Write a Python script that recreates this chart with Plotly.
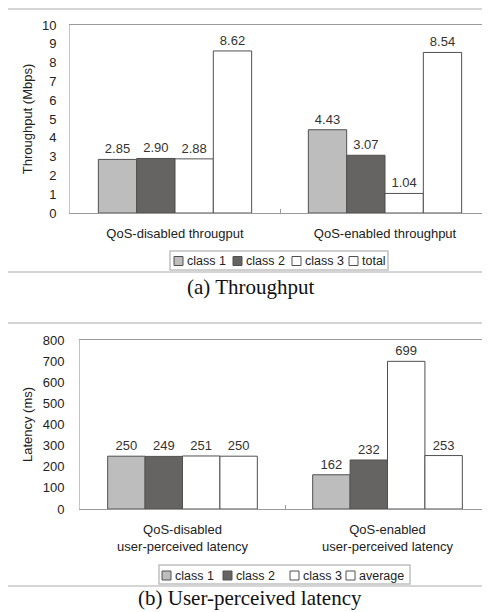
import plotly.graph_objects as go

# ---- data ----
tp_categories = ["QoS-disabled througput", "QoS-enabled throughput"]
tp_class1 = [2.85, 4.43]
tp_class2 = [2.90, 3.07]
tp_class3 = [2.88, 1.04]
tp_total = [8.62, 8.54]
tp_names = ["class 1", "class 2", "class 3", "total"]

lat_categories = ["QoS-disabled<br>user-perceived latency", "QoS-enabled<br>user-perceived latency"]
lat_class1 = [250, 162]
lat_class2 = [249, 232]
lat_class3 = [251, 699]
lat_average = [250, 253]
lat_names = ["class 1", "class 2", "class 3", "average"]

# the page body adds an 8px margin: the figure is sized to fill the rest of the window
OFF = 8
W, H = 490 - OFF, 612 - OFF
FONT = "Liberation Sans, Arial, sans-serif"
SERIF = "Liberation Serif, Times New Roman, serif"
C1, C2, CW = "#bdbdbd", "#656462", "#ffffff"
COLORS = [C1, C2, CW, CW]
OUT = "#505050"
TXT = "#222"


def px(x):
    return (x - OFF) / W


def py(y):
    return 1 - (y - OFF) / H


fig = go.Figure()


def add_bars(cats, vals, name, color, xa, ya, fmt):
    fig.add_trace(go.Bar(
        x=cats, y=vals, name=name, xaxis=xa, yaxis=ya, showlegend=False,
        marker=dict(color=color, line=dict(color=OUT, width=1)),
        texttemplate=fmt, textposition="outside", cliponaxis=False,
        textfont=dict(family=FONT, size=13, color="#333"),
    ))


for vals, name, col in zip([tp_class1, tp_class2, tp_class3, tp_total], tp_names, COLORS):
    add_bars(tp_categories, vals, name, col, "x", "y", "%{y:.2f}")
for vals, name, col in zip([lat_class1, lat_class2, lat_class3, lat_average], lat_names, COLORS):
    add_bars(lat_categories, vals, name, col, "x2", "y2", "%{y}")

xcommon = dict(showline=True, linecolor="#9a9a9a", mirror=True, ticks="inside",
               tickson="boundaries", ticklen=4, tickcolor="#9a9a9a",
               tickfont=dict(family=FONT, size=13, color=TXT),
               showgrid=False, automargin=False, ticklabelstandoff=8, fixedrange=True)
ycommon = dict(showline=True, linecolor="#c4c4c4", mirror=True, ticks="",
               tickfont=dict(family=FONT, size=13, color=TXT),
               showgrid=False, zeroline=False, automargin=False, fixedrange=True)

shapes = [
    dict(type="rect", xref="paper", yref="paper", x0=px(7), x1=px(500),
         y0=py(272), y1=py(9), line=dict(color="#c8c8c8", width=1.5), layer="below"),
    dict(type="rect", xref="paper", yref="paper", x0=px(7), x1=px(500),
         y0=py(586), y1=py(323), line=dict(color="#c8c8c8", width=1.5), layer="below"),
]
annotations = [
    dict(text="(a) Throughput", xref="paper", yref="paper", x=px(250), y=py(287),
         xanchor="center", yanchor="middle", showarrow=False,
         font=dict(family=SERIF, size=21, color="#111")),
    dict(text="(b) User-perceived latency", xref="paper", yref="paper", x=px(250), y=py(598),
         xanchor="center", yanchor="middle", showarrow=False,
         font=dict(family=SERIF, size=21, color="#111")),
]


# compact legends (box, swatches, labels)
def add_legend(names, box, sq_x, cy):
    x0, x1, y0, y1 = box
    shapes.append(dict(type="rect", xref="paper", yref="paper", x0=px(x0), x1=px(x1),
                       y0=py(y1), y1=py(y0), line=dict(color="#c0c0c0", width=1.5),
                       fillcolor="white", layer="above"))
    for name, col, sx in zip(names, COLORS, sq_x):
        shapes.append(dict(type="rect", xref="paper", yref="paper", x0=px(sx), x1=px(sx + 9),
                           y0=py(cy + 4.5), y1=py(cy - 4.5),
                           line=dict(color=OUT, width=1), fillcolor=col, layer="above"))
        annotations.append(dict(text=name, xref="paper", yref="paper", x=px(sx + 11), y=py(cy),
                                xanchor="left", yanchor="middle", showarrow=False,
                                font=dict(family=FONT, size=12.5, color=TXT)))


add_legend(tp_names, (170, 388, 251, 270), [174, 233, 292, 349], 261)
add_legend(lat_names, (159, 410, 565, 584), [162, 223, 290, 346], 575.5)

fig.update_layout(
    width=W, height=H, template="none",
    margin=dict(l=0, r=0, t=0, b=0, autoexpand=False),
    paper_bgcolor="white", plot_bgcolor="white",
    barmode="group", bargap=0.27, bargroupgap=0,
    font=dict(family=FONT, size=13, color=TXT),
    showlegend=False,
    xaxis=dict(domain=[px(70), 1.0], anchor="y", **xcommon),
    yaxis=dict(domain=[py(213), py(25)], anchor="x", range=[0, 10], dtick=1,
               ticklabelstandoff=10,
               title=dict(text="Throughput (Mbps)", standoff=6,
                          font=dict(family=FONT, size=13, color=TXT)), **ycommon),
    xaxis2=dict(domain=[px(80), 1.0], anchor="y2", **xcommon),
    yaxis2=dict(domain=[py(509), py(340)], anchor="x2", range=[0, 800], dtick=100,
                ticklabelstandoff=12,
                title=dict(text="Latency (ms)", standoff=7,
                           font=dict(family=FONT, size=13, color=TXT)), **ycommon),
    shapes=shapes,
    annotations=annotations,
)

fig.write_html("out.html")
